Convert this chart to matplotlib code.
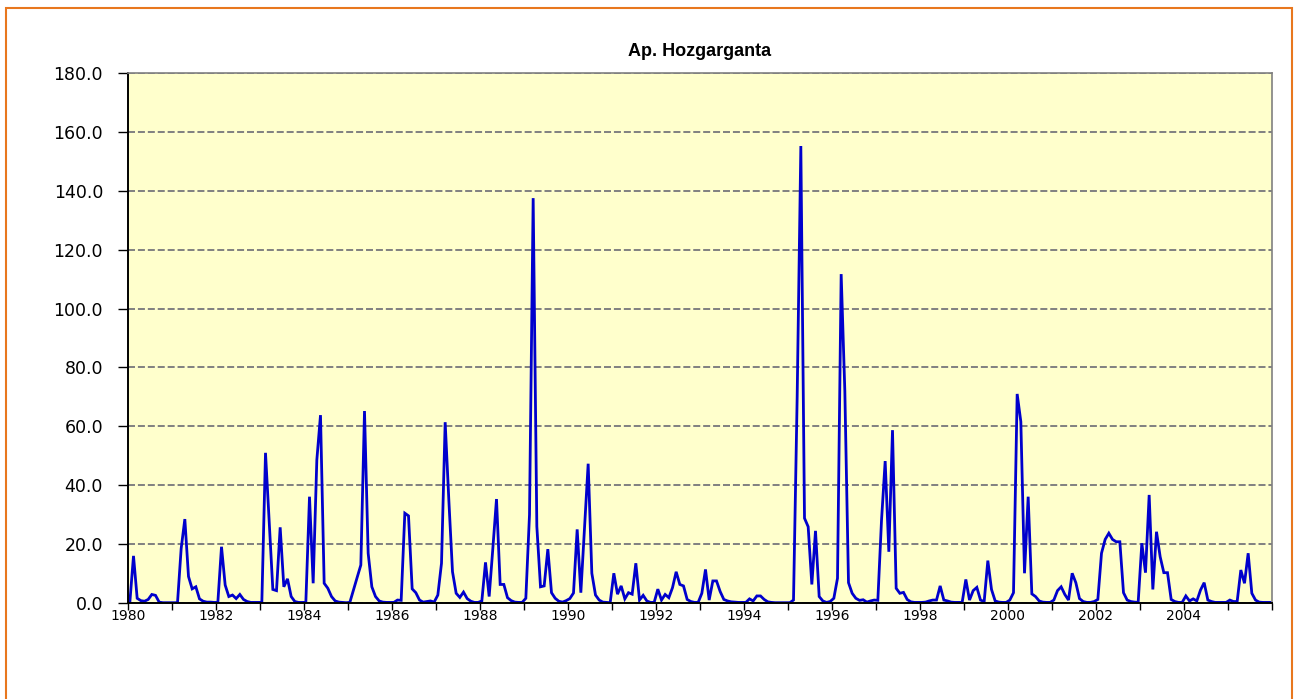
import matplotlib

matplotlib.use("Agg")
import matplotlib.pyplot as plt
import numpy as np
from matplotlib.patches import Rectangle
from matplotlib.ticker import FuncFormatter, MultipleLocator

# Monthly values, Jan 1980 .. Dec 2005
flow_by_year = {
    1980: [0.2, 16.0, 1.6, 0.8, 0.6, 1.2, 2.9, 2.6, 0.3, 0.1, 0.1, 0.1],
    1981: [0.1, 0.1, 18.5, 28.5, 9.0, 4.8, 5.5, 1.4, 0.6, 0.3, 0.3, 0.2],
    1982: [0.2, 19.1, 6.1, 2.2, 2.7, 1.5, 2.9, 1.2, 0.5, 0.2, 0.2, 0.2],
    1983: [0.2, 51.0, 28.0, 4.6, 4.2, 25.7, 5.5, 8.2, 2.2, 0.5, 0.2, 0.2],
    1984: [0.2, 36.1, 6.7, 48.6, 63.8, 6.7, 5.0, 2.2, 0.7, 0.3, 0.2, 0.1],
    1985: [0.2, 4.5, 8.7, 12.9, 65.2, 16.9, 5.5, 2.2, 0.7, 0.3, 0.2, 0.2],
    1986: [0.2, 1.0, 0.9, 30.5, 29.6, 4.8, 3.5, 1.0, 0.3, 0.5, 0.7, 0.3],
    1987: [2.7, 13.5, 61.4, 35.0, 10.6, 3.3, 1.9, 3.7, 1.5, 0.6, 0.2, 0.2],
    1988: [0.7, 13.8, 2.2, 18.5, 35.3, 6.3, 6.3, 1.8, 0.8, 0.3, 0.2, 0.2],
    1989: [1.6, 30.0, 137.5, 26.0, 5.5, 5.8, 18.3, 3.5, 1.6, 0.6, 0.3, 0.8],
    1990: [1.5, 3.4, 25.0, 3.5, 25.5, 47.3, 10.1, 2.7, 1.0, 0.3, 0.2, 0.1],
    1991: [10.1, 3.0, 5.8, 1.4, 3.5, 3.0, 13.5, 1.0, 2.6, 0.7, 0.2, 0.2],
    1992: [4.7, 1.0, 2.9, 1.8, 5.2, 10.6, 6.3, 5.8, 1.2, 0.5, 0.2, 0.2],
    1993: [3.3, 11.4, 1.0, 7.5, 7.5, 3.9, 1.2, 0.7, 0.4, 0.3, 0.2, 0.2],
    1994: [0.2, 1.4, 0.7, 2.4, 2.4, 1.2, 0.4, 0.2, 0.1, 0.1, 0.1, 0.1],
    1995: [0.1, 1.0, 70.0, 155.2, 28.8, 25.9, 6.3, 24.5, 2.2, 0.7, 0.2, 0.5],
    1996: [1.6, 8.4, 111.7, 72.0, 6.9, 3.3, 1.6, 0.9, 1.1, 0.3, 0.7, 1.0],
    1997: [0.9, 28.0, 48.2, 17.4, 58.7, 5.0, 3.3, 3.6, 1.2, 0.4, 0.2, 0.2],
    1998: [0.2, 0.3, 0.7, 1.0, 1.0, 5.8, 1.0, 0.7, 0.3, 0.2, 0.2, 0.2],
    1999: [8.0, 1.0, 4.2, 5.3, 1.0, 0.5, 14.4, 4.6, 0.7, 0.3, 0.2, 0.2],
    2000: [1.0, 3.5, 71.0, 61.6, 10.1, 36.1, 3.1, 2.2, 0.7, 0.3, 0.2, 0.2],
    2001: [1.0, 4.2, 5.5, 2.9, 1.0, 10.1, 6.9, 1.5, 0.5, 0.2, 0.2, 0.5],
    2002: [1.2, 16.9, 21.6, 23.7, 21.6, 20.8, 20.8, 3.5, 1.0, 0.5, 0.3, 0.2],
    2003: [20.3, 10.3, 36.7, 4.6, 24.2, 15.7, 10.3, 10.3, 1.2, 0.5, 0.2, 0.2],
    2004: [2.4, 0.7, 1.4, 0.7, 4.4, 6.9, 1.0, 0.5, 0.2, 0.2, 0.2, 0.2],
    2005: [1.0, 0.5, 0.5, 11.2, 6.7, 16.9, 3.3, 1.0, 0.3, 0.2, 0.2, 0.2],
}

years = sorted(flow_by_year)
values = np.concatenate([flow_by_year[y] for y in years])
# each month drawn at the middle of its slot
months = years[0] + (np.arange(len(values)) + 0.5) / 12.0

fig = plt.figure(figsize=(12.98, 6.99), dpi=100)
ax = fig.add_axes([128 / 1298, 96 / 699, 1144 / 1298, 530 / 699])

# orange frame around the chart (bottom edge falls outside the picture)
fig.patches.append(
    Rectangle(
        (6 / 1298, -10 / 699),
        1286 / 1298,
        701 / 699,
        transform=fig.transFigure,
        fill=False,
        edgecolor="#E8771E",
        linewidth=1.5,
    )
)

ax.set_facecolor("#FFFFCC")
ax.plot(months, values, color="#0000CC", linewidth=2.0, solid_joinstyle="miter")

ax.set_xlim(1980, 2006)
ax.set_ylim(0, 180)
ax.yaxis.set_major_locator(MultipleLocator(20))
ax.yaxis.set_major_formatter(FuncFormatter(lambda v, _: f"{v:.1f}"))
ax.xaxis.set_major_locator(MultipleLocator(2))
ax.xaxis.set_minor_locator(MultipleLocator(1))
ax.xaxis.set_major_formatter(FuncFormatter(lambda v, _: f"{int(v)}" if v < 2005 else ""))

ax.grid(axis="y", color="#808080", linestyle=(0, (3.6, 1.5)), linewidth=1.4)
ax.set_axisbelow(True)

ax.tick_params(axis="y", direction="out", length=7, width=1, labelsize=12.5, pad=11)
ax.tick_params(axis="x", which="both", direction="out", length=5, width=1, labelsize=10, pad=-1)

for side in ["left", "bottom"]:
    ax.spines[side].set_color("black")
    ax.spines[side].set_linewidth(1.4)
for side in ["top", "right"]:
    ax.spines[side].set_color("#808080")
    ax.spines[side].set_linewidth(1.2)

ax.set_title(
    "Ap. Hozgarganta",
    fontsize=13,
    fontweight="bold",
    family=["Liberation Sans", "DejaVu Sans"],
    pad=12,
)

fig.savefig("out.png", dpi=100)
